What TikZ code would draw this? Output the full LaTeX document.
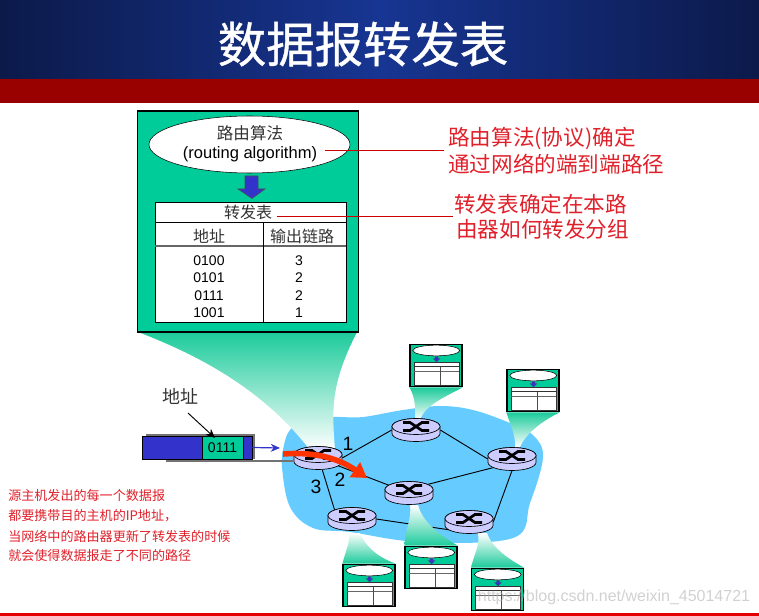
\documentclass[tikz,border=0pt]{standalone}
\usepackage{fontspec}
\setmainfont{Liberation Sans}
\newfontfamily\cjk{Noto Sans CJK SC}
\newfontfamily\cjktitle[FakeBold=0.8]{Noto Sans CJK SC}
\usetikzlibrary{shapes.geometric,arrows.meta}

\definecolor{navyedge}{HTML}{0C1A4A}
\definecolor{navymid}{HTML}{173592}
\definecolor{darkred}{HTML}{990000}
\definecolor{tablegreen}{HTML}{00CC99}
\definecolor{fadegreen}{HTML}{1CCB9B}
\definecolor{cloudblue}{HTML}{66CCFF}
\definecolor{routerblue}{HTML}{CCCCFF}
\definecolor{pktblue}{HTML}{3333CC}
\definecolor{noteared}{HTML}{E0202A}
\definecolor{flowred}{HTML}{FF3300}

\begin{document}
\begin{tikzpicture}[x=0.75pt,y=-0.75pt,
    note/.style={text=noteared, font=\cjk\fontsize{16.2}{18}\selectfont, anchor=west, inner sep=0pt},
    smallnote/.style={text=noteared, font=\cjk\fontsize{9.8}{11}\selectfont, anchor=west, inner sep=0pt},
    cell/.style={font=\cjk\fontsize{12}{14}\selectfont, inner sep=0pt, text=black!80},
    num/.style={font=\fontsize{10.5}{12}\selectfont, inner sep=0pt},
    portnum/.style={font=\fontsize{14.5}{16}\selectfont, inner sep=0pt},
    routernode/.style={ellipse, minimum width=36pt, minimum height=17pt, inner sep=0pt},
    routerbody/.style={draw, fill=routerblue, line width=0.5pt},
    minitab/.style={draw, line width=0.9pt, fill=tablegreen, minimum width=39pt, minimum height=32pt, inner sep=0pt},
    link/.style={draw, line width=0.7pt},
    callout/.style={draw=red!80!black, line width=0.6pt},
    funnelup/.style={top color=white, bottom color=fadegreen},
    funneldown/.style={top color=fadegreen, bottom color=white}
]
\useasboundingbox (0,0) rectangle (759,616);

% Header bands
\shade[left color=navyedge, right color=navyedge, middle color=navymid] (0,0) rectangle (759,79);
\fill[darkred] (0,79) rectangle (759,103);
\fill[red!90!black] (0,613) rectangle (759,616);
\node[text=white, inner sep=0pt, font=\cjktitle\fontsize{36.3}{40}\selectfont] (title) at (363,44) {数据报转发表};

% Cloud
\fill[cloudblue] plot[smooth cycle, tension=0.6] coordinates {
    (282,467) (284,445) (290,430) (305,419) (335,417) (363,417) (403,410) (440,406) (473,410) (510,423)
    (533,435) (543,457) (530,503) (513,538) (420,542) (350,532) (313,528) (290,507)};

% Big table funnel
\shade[top color=fadegreen, middle color=fadegreen!28, bottom color=white]
    (138,332) .. controls (190,352) and (260,385) .. (310,450) -- (335,450)
    .. controls (332,410) and (330,385) .. (357,332) -- cycle;

% Big forwarding table
\node[draw, line width=1.2pt, fill=tablegreen, minimum width=165.75pt, minimum height=165.75pt, inner sep=0pt] (fwdbox) at (248,221.5) {};
\node[draw, fill=white, ellipse, minimum width=150.75pt, minimum height=42.75pt, inner sep=0pt] (algo) at (249.5,144.5) {};
\node[cell, font=\cjk\fontsize{12.4}{14}\selectfont] (algoname) at (250,133) {路由算法};
\node[inner sep=0pt, font=\fontsize{12.4}{14}\selectfont] (algoen) at (250,154) {(routing algorithm)};
\filldraw[fill=pktblue, draw=black!70, line width=0.4pt] (245,176) -- (258,176) -- (258,189) -- (265,189) -- (252,198.5) -- (238,189) -- (245,189) -- cycle;
\node[draw, fill=white, line width=0.6pt, minimum width=143.25pt, minimum height=90pt, inner sep=0pt] (fwdtab) at (250.5,262) {};
\coordinate (tabL) at (155,222);
\coordinate (tabR) at (346,222);
\coordinate (headL) at (155,246);
\coordinate (headR) at (346,246);
\coordinate (colT) at (263,222);
\coordinate (colB) at (263,322);
\draw[line width=0.7pt] (tabL) -- (tabR);
\draw[line width=1pt, black!60] (headL) -- (headR);
\draw[line width=0.7pt] (colT) -- (colB);
\node[cell] (tabname) at (248,212) {转发表};
\node[cell] (addrhead) at (209,236) {地址};
\node[cell] (linkhead) at (302,236) {输出链路};
\foreach \addr/\lnk/\yy in {0100/3/261, 0101/2/278, 0111/2/296, 1001/1/313}{
    \node[num] (a\addr) at (209,\yy) {\addr};
    \node[num] (l\addr) at (299,\yy) {\lnk};
}

% Red notes
\node[note] (noteA) at (448,138) {路由算法(协议)确定};
\node[note] (noteB) at (448,164) {通过网络的端到端路径};
\node[note] (noteC) at (454,204) {转发表确定在本路};
\node[note] (noteD) at (456,229) {由器如何转发分组};
\coordinate (algoend) at (325,150.5);
\coordinate (algotip) at (444,150.5);
\coordinate (tabend) at (277,216);
\coordinate (tabtip) at (453,216);
\draw[callout] (algoend) -- (algotip);
\draw[callout] (tabend) -- (tabtip);
\node[smallnote] (src1) at (8,496) {源主机发出的每一个数据报};
\node[smallnote] (src2) at (8,516) {都要携带目的主机的IP地址，};
\node[smallnote] (src3) at (8,536) {当网络中的路由器更新了转发表的时候};
\node[smallnote] (src4) at (8,556) {就会使得数据报走了不同的路径};

% Small tables at the routers
\foreach \name/\xx/\yy in {T1/410/344, T2/507/369, T3/405/546, T4/471.5/568, T5/343/564}{
    \node[minitab] (\name) at (\xx+26,\yy+21.5) {};
    \begin{scope}[shift={(\xx,\yy)}]
        \draw[fill=white, line width=0.4pt] (26.3,6.5) ellipse [x radius=17.6pt, y radius=4pt];
        \filldraw[fill=pktblue, draw=black!70, line width=0.2pt] (25,12.5) -- (28,12.5) -- (28,14.5) -- (30,14.5) -- (26.5,18) -- (23,14.5) -- (25,14.5) -- cycle;
        \draw[draw=black!80, fill=white, line width=0.5pt] (4,18) rectangle (49,41);
        \draw[line width=0.5pt, black!80] (4,22.5) -- (49,22.5);
        \draw[line width=0.6pt, black!60] (4,27) -- (49,27);
        \draw[line width=0.6pt, black!70] (30,22.5) -- (30,41);
    \end{scope}
}

% Routers and links
\foreach \n/\xx/\yy in {0/318/458, 1/416/430, 2/512/459, 3/409/493, 4/469/522, 5/352/519}{
    \node[routernode] (R\n) at (\xx,\yy) {};
}
\draw[link] (R0.east) -- (R1.west);
\draw[link] (R1.east) -- (R2.west);
\draw[link] (R2.south west) -- (R3.north east);
\draw[link] (R3) -- (R0);
\draw[link] (R2.south) -- (R4.east);
\draw[link] (R4.south west) -- (R5.east);
\draw[link] (R5.north west) -- (R0.-70);

% Funnels from small tables
\shade[funneldown] (T1.south west) .. controls (414,395) and (416,405) .. (415,420) -- (420,420) .. controls (425,405) and (445,397) .. (T1.south east) -- cycle;
\shade[funneldown] (T2.south west) .. controls (510,425) and (516,435) .. (515,447) -- (520,447) .. controls (525,435) and (540,422) .. (T2.south east) -- cycle;
\shade[funnelup] (T3.north west) .. controls (405,530) and (412,518) .. (410,505) -- (418,505) .. controls (422,520) and (435,532) .. (T3.north east) -- cycle;
\shade[funnelup] (T4.north west) .. controls (475,552) and (480,545) .. (478,533) -- (487,533) .. controls (492,548) and (510,560) .. (T4.north east) -- cycle;
\shade[funnelup] (T5.north west) .. controls (346,550) and (350,542) .. (349,533) -- (360,533) .. controls (365,545) and (375,556) .. (T5.north east) -- cycle;

% Router bodies on top
\foreach \n/\xx/\yy in {0/318/458, 1/416/430, 2/512/459, 3/409/493, 4/469/522, 5/352/519}{
    \begin{scope}[shift={(\xx,\yy)}]
        \draw[routerbody] (-24,3.5) arc[start angle=180, end angle=360, x radius=18pt, y radius=6pt]
            -- (24,-3.5) arc[start angle=0, end angle=180, x radius=18pt, y radius=6pt] -- cycle;
        \draw[routerbody] (0,-3.5) ellipse [x radius=18pt, y radius=6pt];
        \draw[line width=2pt] (-13,-7.5) -- (-6,-7.5) -- (6,0.5) -- (13,0.5);
        \draw[line width=2pt] (-13,0.5) -- (-6,0.5) -- (6,-7.5) -- (13,-7.5);
    \end{scope}
}
\node[portnum] (port1) at (348,444) {1};
\node[portnum] (port2) at (340,480) {2};
\node[portnum] (port3) at (316,487) {3};

% Packet
\fill[black!55] (146,434) rectangle (255,459);
\coordinate (shadowL) at (166,461);
\coordinate (shadowR) at (R0.west);
\draw[black!55, line width=1pt] (shadowL) -- (shadowR |- shadowL);
\node[draw, fill=pktblue, line width=0.7pt, minimum width=82.5pt, minimum height=17.25pt, inner sep=0pt] (pkt) at (197,447.5) {};
\node[draw, fill=tablegreen, line width=0.7pt, minimum width=30.75pt, minimum height=17.25pt, inner sep=0pt, font=\fontsize{10.5}{12}\selectfont] (pktaddr) at (222.5,447.5) {0111};
\node[cell, font=\cjk\fontsize{13.5}{15}\selectfont] (addrlabel) at (180,396) {地址};
\coordinate (addrfrom) at (188,413);
\coordinate (addrto) at (215,438);
\draw[-{Stealth[length=7pt, width=6pt]}, line width=0.7pt] (addrfrom) -- (addrto);
\coordinate (pktgo) at (280,448);
\draw[-{Stealth[length=7pt, width=6pt]}, pktblue, line width=0.9pt] (pkt.east) -- (pktgo);

% Flow arrow
\coordinate (flowA) at (283,454);
\coordinate (flowB) at (367,478);
\draw[flowred, line width=4.2pt, -{Triangle[length=11pt, width=13pt]}] (flowA) .. controls (310,452) and (335,456) .. (flowB);

% Watermark
\node[inner sep=0pt, text=black!30, opacity=0.6, font=\fontsize{12}{14}\selectfont] (mark) at (614,597) {https://blog.csdn.net/weixin\_45014721};
\end{tikzpicture}
\end{document}
